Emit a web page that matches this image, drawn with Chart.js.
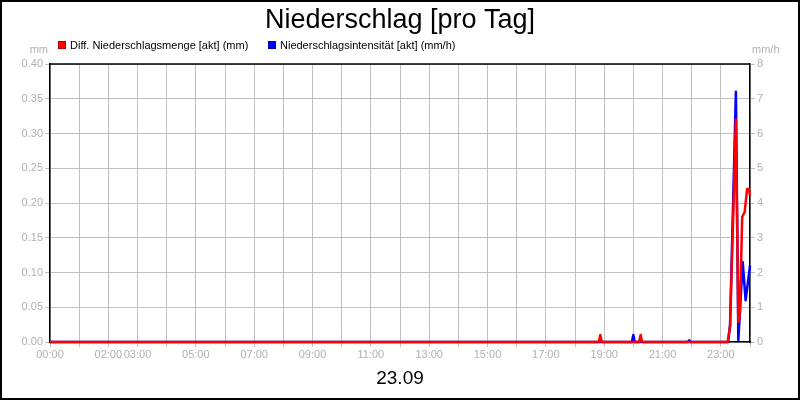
<!DOCTYPE html>
<html>
<head>
<meta charset="utf-8">
<script src="https://cdn.jsdelivr.net/npm/chart.js@4"></script>
<style>
  html, body { margin: 0; padding: 0; background: #ffffff; }
  #wrap { width: 800px; height: 400px; }
</style>
</head>
<body>
<div id="wrap"><canvas id="c" width="800" height="400"></canvas></div>
<script>
// ---- data ----
const chartTitle = 'Niederschlag [pro Tag]';
const dateLabel = '23.09';
const seriesNames = ['Diff. Niederschlagsmenge [akt] (mm)', 'Niederschlagsintensität [akt] (mm/h)'];
const seriesColors = ['#ff0000', '#0000ff'];

const timesRed  = ['00:00','18:49','18:52','18:55','20:12','20:15','20:18','23:14','23:19','23:31','23:36','23:39','23:44','23:49','23:54','23:58','24:00'];
const valuesRed = [0, 0, 0.01, 0, 0, 0.01, 0, 0, 0.022, 0.32, 0.029, 0.039, 0.18, 0.187, 0.22, 0.22, 0.21];

const timesBlue  = ['00:00','19:57','20:00','20:03','21:52','21:55','21:58','23:15','23:19','23:31','23:36','23:45','23:51','24:00'];
const valuesBlue = [0, 0, 0.2, 0, 0, 0.05, 0, 0, 0.5, 7.2, 0.05, 2.3, 1.2, 2.2];

const xTickLabels = ['00:00','02:00','03:00','05:00','07:00','09:00','11:00','13:00','15:00','17:00','19:00','21:00','23:00'];
const leftTicks = [0, 0.05, 0.10, 0.15, 0.20, 0.25, 0.30, 0.35, 0.40];
const rightTicks = [0, 1, 2, 3, 4, 5, 6, 7, 8];
const leftUnit = 'mm';
const rightUnit = 'mm/h';

// ---- helpers ----
const toHours = s => { const [h, m] = s.split(':').map(Number); return h + m / 60; };
const pts = (times, vals) => times.map((t, i) => ({ x: toHours(t), y: vals[i] }));
const labelHours = xTickLabels.map(toHours);

const FONT = "'Liberation Sans', Arial, sans-serif";
const GRAY = '#b0b0b0';
const GRID = '#c0c0c0';

const decor = {
  id: 'decor',
  beforeDraw(chart) {
    const ctx = chart.ctx;
    ctx.save();
    ctx.fillStyle = '#ffffff';
    ctx.fillRect(0, 0, chart.width, chart.height);
    ctx.restore();
  },
  beforeDatasetsDraw(chart) {
    const { ctx, chartArea: a } = chart;
    ctx.save();
    ctx.strokeStyle = '#000000';
    ctx.lineWidth = 1.5;
    ctx.beginPath();
    ctx.moveTo(a.left, a.top);
    ctx.lineTo(a.right, a.top);
    ctx.stroke();
    ctx.restore();
  },
  afterDraw(chart) {
    const ctx = chart.ctx;
    ctx.save();
    // title
    ctx.fillStyle = '#000000';
    ctx.font = '27px ' + FONT;
    ctx.textAlign = 'center';
    ctx.textBaseline = 'alphabetic';
    ctx.fillText(chartTitle, 400, 28);
    // legend
    ctx.font = '11px ' + FONT;
    ctx.textAlign = 'left';
    const legendX = [58, 268];
    seriesNames.forEach((n, i) => {
      ctx.fillStyle = seriesColors[i];
      ctx.fillRect(legendX[i], 41, 8, 8);
      ctx.strokeStyle = 'rgba(0,0,0,0.5)';
      ctx.lineWidth = 0.5;
      ctx.strokeRect(legendX[i] + 0.25, 41.25, 7.5, 7.5);
      ctx.fillStyle = '#000000';
      ctx.fillText(n, legendX[i] + 12, 48.5);
    });
    // units
    ctx.fillStyle = GRAY;
    ctx.textAlign = 'right';
    ctx.fillText(leftUnit, 48, 53);
    ctx.textAlign = 'left';
    ctx.fillText(rightUnit, 752, 53);
    // date
    ctx.fillStyle = '#000000';
    ctx.font = '19px ' + FONT;
    ctx.textAlign = 'center';
    ctx.fillText(dateLabel, 400, 384);
    // outer border
    ctx.strokeStyle = '#000000';
    ctx.lineWidth = 2;
    ctx.strokeRect(1, 1, 798, 398);
    ctx.restore();
  }
};

new Chart(document.getElementById('c'), {
  type: 'line',
  data: {
    datasets: [
      {
        label: seriesNames[0],
        data: pts(timesRed, valuesRed),
        borderColor: seriesColors[0],
        backgroundColor: seriesColors[0],
        borderWidth: 2.5,
        pointRadius: 0,
        tension: 0,
        borderJoinStyle: 'round',
        clip: 3,
        yAxisID: 'y'
      },
      {
        label: seriesNames[1],
        data: pts(timesBlue, valuesBlue),
        borderColor: seriesColors[1],
        backgroundColor: seriesColors[1],
        borderWidth: 2.5,
        pointRadius: 0,
        tension: 0,
        borderJoinStyle: 'round',
        clip: 3,
        yAxisID: 'y1'
      }
    ]
  },
  options: {
    responsive: false,
    animation: false,
    devicePixelRatio: 1,
    layout: { padding: { top: 64, left: 0, right: 0, bottom: 0 } },
    plugins: {
      legend: { display: false },
      title: { display: false },
      tooltip: { enabled: false }
    },
    scales: {
      x: {
        type: 'linear',
        min: 0,
        max: 24,
        afterFit(s) { s.height = 58; },
        afterBuildTicks(s) {
          const t = [];
          for (let h = 0; h <= 24; h++) t.push({ value: h });
          s.ticks = t;
        },
        ticks: {
          autoSkip: false,
          maxRotation: 0,
          padding: 1,
          color: GRAY,
          font: { family: FONT, size: 11 },
          callback(v) {
            const i = labelHours.indexOf(v);
            return i >= 0 ? xTickLabels[i] : '';
          }
        },
        grid: { color: GRID, lineWidth: 1, tickLength: 5, tickColor: GRID },
        border: { color: '#000000', width: 1.5 }
      },
      y: {
        position: 'left',
        min: 0,
        max: 0.4,
        afterFit(s) { s.width = 50; },
        afterBuildTicks(s) { s.ticks = leftTicks.map(v => ({ value: v })); },
        ticks: {
          padding: 2,
          color: GRAY,
          font: { family: FONT, size: 11 },
          callback: v => Number(v).toFixed(2)
        },
        grid: { color: GRID, lineWidth: 1, tickLength: 5, tickColor: GRID },
        border: { color: '#000000', width: 1.5 }
      },
      y1: {
        position: 'right',
        min: 0,
        max: 8,
        afterFit(s) { s.width = 50; },
        afterBuildTicks(s) { s.ticks = rightTicks.map(v => ({ value: v })); },
        ticks: {
          padding: 2,
          color: GRAY,
          font: { family: FONT, size: 11 },
          callback: v => String(v)
        },
        grid: { drawOnChartArea: false, tickLength: 5, tickColor: GRID },
        border: { color: '#000000', width: 1.5 }
      }
    }
  },
  plugins: [decor]
});
</script>
</body>
</html>
